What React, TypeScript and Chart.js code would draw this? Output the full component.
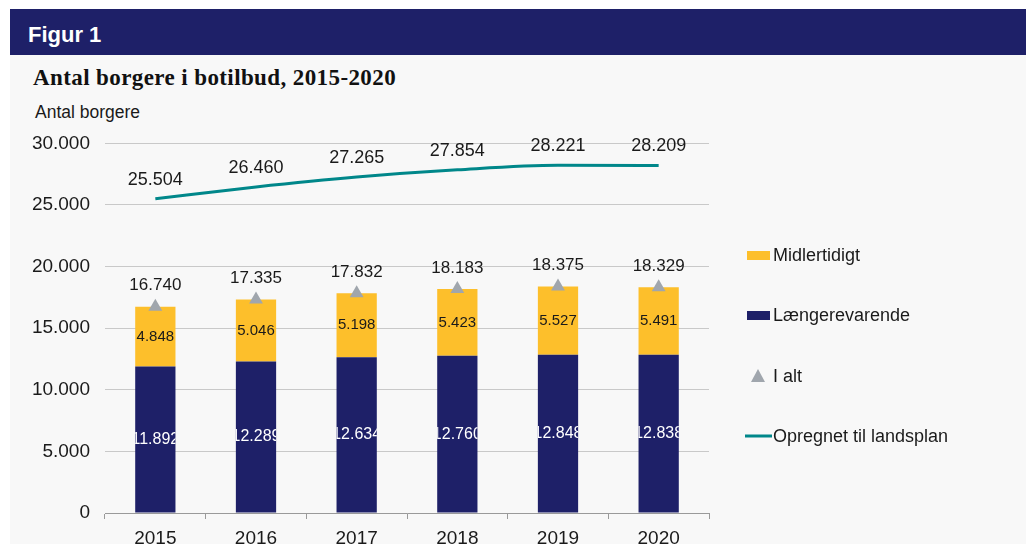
import React, { useEffect, useRef } from "react";
import { Chart, registerables } from "chart.js";

Chart.register(...registerables);

const years = ["2015", "2016", "2017", "2018", "2019", "2020"];
const laengerevarende = [11892, 12289, 12634, 12760, 12848, 12838];
const midlertidigt = [4848, 5046, 5198, 5423, 5527, 5491];
const iAlt = [16740, 17335, 17832, 18183, 18375, 18329];
const landsplan = [25504, 26460, 27265, 27854, 28221, 28209];
const yTicks = [0, 5000, 10000, 15000, 20000, 25000, 30000];

const NAVY = "#1e2068";
const YELLOW = "#fdbf2b";
const GRAY = "#a0a6ad";
const TEAL = "#00878a";
const TEXT = "#1a1a1a";
const FONT = "'Liberation Sans', Arial, sans-serif";

const fmt = (v: number) => String(Math.round(v)).replace(/\B(?=(\d{3})+(?!\d))/g, ".");

const labelPlugin = {
  id: "labels",
  afterDatasetsDraw(chart: any) {
    const ctx = chart.ctx;
    ctx.save();
    ctx.textAlign = "center";
    ctx.textBaseline = "middle";
    const m0 = chart.getDatasetMeta(0);
    m0.data.forEach((bar: any, i: number) => {
      const p = bar.getProps(["x", "y", "base", "width"], true);
      ctx.save();
      ctx.beginPath();
      ctx.rect(p.x - p.width / 2, Math.min(p.y, p.base), p.width, Math.abs(p.base - p.y));
      ctx.clip();
      ctx.fillStyle = "#ffffff";
      ctx.font = `16px ${FONT}`;
      ctx.fillText(fmt(laengerevarende[i]), p.x, (p.y + p.base) / 2);
      ctx.restore();
    });
    const m1 = chart.getDatasetMeta(1);
    m1.data.forEach((bar: any, i: number) => {
      const p = bar.getProps(["x", "y", "base"], true);
      ctx.fillStyle = TEXT;
      ctx.font = `15px ${FONT}`;
      ctx.fillText(fmt(midlertidigt[i]), p.x, (p.y + p.base) / 2);
    });
    const m2 = chart.getDatasetMeta(2);
    m2.data.forEach((pt: any, i: number) => {
      ctx.fillStyle = TEXT;
      ctx.font = `17px ${FONT}`;
      ctx.fillText(fmt(iAlt[i]), pt.x, pt.y - 21);
    });
    const m3 = chart.getDatasetMeta(3);
    m3.data.forEach((pt: any, i: number) => {
      ctx.fillStyle = TEXT;
      ctx.font = `18px ${FONT}`;
      ctx.fillText(fmt(landsplan[i]), pt.x, pt.y - 19);
    });
    ctx.restore();
  },
  afterDraw(chart: any) {
    const ctx = chart.ctx;
    ctx.save();
    ctx.font = `18px ${FONT}`;
    ctx.textAlign = "left";
    ctx.textBaseline = "middle";
    const items = [
      { label: chart.data.datasets[1].label, kind: "box", color: YELLOW, y: 138 },
      { label: chart.data.datasets[0].label, kind: "box", color: NAVY, y: 198 },
      { label: chart.data.datasets[2].label, kind: "tri", color: GRAY, y: 259 },
      { label: chart.data.datasets[3].label, kind: "line", color: TEAL, y: 319 },
    ];
    items.forEach((it) => {
      if (it.kind === "box") {
        ctx.fillStyle = it.color;
        ctx.fillRect(747, it.y - 4, 23, 9);
      } else if (it.kind === "tri") {
        ctx.fillStyle = it.color;
        ctx.beginPath();
        ctx.moveTo(758, it.y - 7);
        ctx.lineTo(765, it.y + 6);
        ctx.lineTo(751, it.y + 6);
        ctx.closePath();
        ctx.fill();
      } else {
        ctx.strokeStyle = it.color;
        ctx.lineWidth = 3;
        ctx.beginPath();
        ctx.moveTo(745, it.y);
        ctx.lineTo(772, it.y);
        ctx.stroke();
      }
      ctx.fillStyle = TEXT;
      ctx.fillText(it.label, 773, it.y + 1);
    });
    ctx.restore();
  },
};

export default function App() {
  const ref = useRef<HTMLCanvasElement | null>(null);
  useEffect(() => {
    if (!ref.current) return;
    const chart = new Chart(ref.current, {
      type: "bar",
      data: {
        labels: years,
        datasets: [
          {
            type: "bar",
            label: "Længerevarende",
            data: laengerevarende,
            backgroundColor: NAVY,
            stack: "s",
            barPercentage: 0.4,
            categoryPercentage: 1,
            order: 2,
          },
          {
            type: "bar",
            label: "Midlertidigt",
            data: midlertidigt,
            backgroundColor: YELLOW,
            stack: "s",
            barPercentage: 0.4,
            categoryPercentage: 1,
            order: 3,
          },
          {
            type: "line",
            label: "I alt",
            data: iAlt,
            showLine: false,
            pointStyle: "triangle",
            pointRadius: 8,
            backgroundColor: GRAY,
            borderColor: GRAY,
            borderWidth: 0,
            stack: "t",
            order: 1,
          },
          {
            type: "line",
            label: "Opregnet til landsplan",
            data: landsplan,
            borderColor: TEAL,
            backgroundColor: TEAL,
            borderWidth: 3,
            pointRadius: 0,
            cubicInterpolationMode: "monotone",
            stack: "l",
            order: 0,
          },
        ] as any,
      },
      options: {
        animation: false,
        responsive: false,
        maintainAspectRatio: false,
        layout: { autoPadding: false, padding: { top: 0, right: 317, bottom: 0, left: 0 } },
        plugins: { legend: { display: false }, tooltip: { enabled: false } },
        scales: {
          x: {
            stacked: true,
            grid: {
              display: true,
              drawOnChartArea: false,
              drawTicks: true,
              tickLength: 6,
              color: "#9a9a9a",
              offset: true,
            },
            border: { display: true, color: "#9a9a9a" },
            ticks: { color: TEXT, font: { size: 19, family: FONT }, padding: 8 },
            afterFit: (s: any) => {
              s.height = 31;
            },
          },
          y: {
            stacked: true,
            min: 0,
            max: 30000,
            afterBuildTicks: (s: any) => {
              s.ticks = yTicks.map((v) => ({ value: v }));
            },
            grid: { color: "#c9c9c9", drawTicks: false, lineWidth: 1 },
            border: { display: false },
            ticks: {
              color: TEXT,
              font: { size: 19, family: FONT },
              padding: 15,
              callback: (v: any) => fmt(Number(v)),
            },
            afterFit: (s: any) => {
              s.width = 105;
            },
          },
        },
      },
      plugins: [labelPlugin],
    } as any);
    return () => chart.destroy();
  }, []);

  return (
    <div style={{ position: "fixed", left: 0, top: 0, width: 1026, height: 544, background: "#ffffff", overflow: "hidden" }}>
      <div style={{ position: "absolute", left: 10, top: 55, width: 1016, height: 489, background: "#f8f8f8" }} />
      <div style={{ position: "absolute", left: 10, top: 9, width: 1016, height: 46, background: NAVY }} />
      <div style={{ position: "absolute", left: 28, top: 21, color: "#ffffff", font: `bold 22px ${FONT}`, lineHeight: "28px" }}>Figur 1</div>
      <div style={{ position: "absolute", left: 33, top: 63, color: "#111", font: "bold 23px 'Liberation Serif', 'DejaVu Serif', serif", lineHeight: "30px", letterSpacing: "0.4px" }}>
        Antal borgere i botilbud, 2015-2020
      </div>
      <div style={{ position: "absolute", left: 35, top: 101, color: TEXT, font: `17.5px ${FONT}`, lineHeight: "22px" }}>Antal borgere</div>
      <canvas ref={ref} width={1026} height={427} style={{ position: "absolute", left: 0, top: 117, width: 1026, height: 427 }} />
    </div>
  );
}
